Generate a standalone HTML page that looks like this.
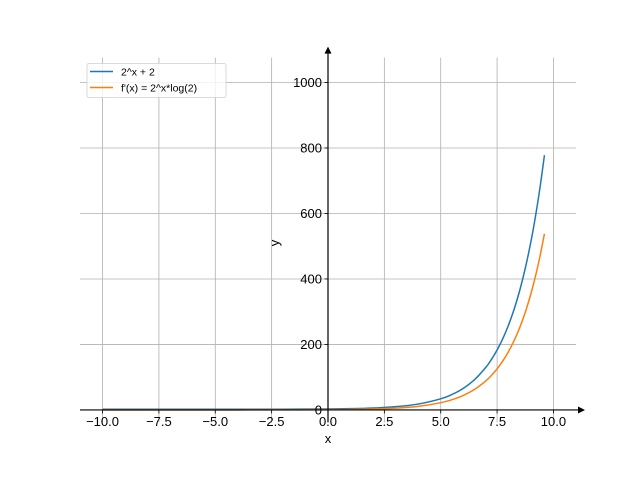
<!DOCTYPE html>
<html><head><meta charset="utf-8"><style>
body{margin:0;background:#fff;}
svg{display:block;font-family:"Liberation Sans","DejaVu Sans",sans-serif;}
</style></head><body>
<svg id="chart" width="640" height="480"></svg>
<script>
const xs=[-10,-8,-6,-4,-2,0,1,2,3,4,5,5.5,6,6.5,7,7.25,7.5,7.75,8,8.25,8.5,8.75,9,9.2,9.4,9.6];
const fVals=[2.0,2.0,2.02,2.06,2.25,3,4,6,10,18,34,47.3,66,92.5,130,154.2,183,217.3,258,306.4,364,432.5,514,590.1,677.6,778];
const dVals=[0.0007,0.003,0.011,0.043,0.173,0.693,1.386,2.773,5.545,11.09,22.18,31.37,44.36,62.73,88.72,105.5,125.5,149.2,177.4,211.0,250.9,298.4,354.9,407.6,468.3,537.9];
const xTicks=[-10,-7.5,-5,-2.5,0,2.5,5,7.5,10];
const xTickLabels=["\u221210.0","\u22127.5","\u22125.0","\u22122.5","0.0","2.5","5.0","7.5","10.0"];
const yTicks=[0,200,400,600,800,1000];
const yTickLabels=["0","200","400","600","800","1000"];
const seriesNames=["2^x + 2","f'(x) = 2^x*log(2)"];

const NS="http://www.w3.org/2000/svg";
const svg=document.getElementById('chart');
const L=80,R=576,T=57.6,B=422.4,xmin=-11,xmax=11,ymin=-38,ymax=1076;
function sx(v){return L+(v-xmin)/(xmax-xmin)*(R-L);}
function sy(v){return B-(v-ymin)/(ymax-ymin)*(B-T);}
function mk(tag,attrs,parent){const e=document.createElementNS(NS,tag);for(const k in attrs)e.setAttribute(k,attrs[k]);(parent||svg).appendChild(e);return e;}
function smoothPath(P){
 let d='M'+P[0][0].toFixed(2)+','+P[0][1].toFixed(2);
 for(let i=0;i<P.length-1;i++){
  const p0=P[Math.max(0,i-1)],p1=P[i],p2=P[i+1],p3=P[Math.min(P.length-1,i+2)];
  const c1x=p1[0]+(p2[0]-p0[0])/6,c1y=p1[1]+(p2[1]-p0[1])/6;
  const c2x=p2[0]-(p3[0]-p1[0])/6,c2y=p2[1]-(p3[1]-p1[1])/6;
  d+=' C'+c1x.toFixed(2)+','+c1y.toFixed(2)+' '+c2x.toFixed(2)+','+c2y.toFixed(2)+' '+p2[0].toFixed(2)+','+p2[1].toFixed(2);
 }
 return d;
}
const x0=sx(0),y0=sy(0);
xTicks.forEach(t=>{const g=mk('line',{x1:sx(t),x2:sx(t),y1:T,y2:B,stroke:'#b0b0b0','stroke-width':0.8});

});
yTicks.forEach(t=>{const g=mk('line',{x1:L,x2:R,y1:sy(t),y2:sy(t),stroke:'#b0b0b0','stroke-width':0.8});

});
const colors=['#1f77b4','#ff7f0e'];
[fVals,dVals].forEach((vals,i)=>{
 const P=xs.map((x,j)=>[sx(x),sy(vals[j])]);
 const p=mk('path',{d:smoothPath(P),fill:'none',stroke:colors[i],'stroke-width':1.5,'stroke-linejoin':'round'});
 
 
});
const xa=mk('line',{x1:L,x2:R+2,y1:y0,y2:y0,stroke:'#000','stroke-width':1.2});


const xArrow=mk('polygon',{points:`${R+9},${y0} ${R+2},${y0-3.5} ${R+2},${y0+3.5}`,fill:'#000'});


const ya=mk('line',{x1:x0,x2:x0,y1:B,y2:T-4,stroke:'#000','stroke-width':1.2});


const yArrow=mk('polygon',{points:`${x0},${T-11} ${x0-3.5},${T-4} ${x0+3.5},${T-4}`,fill:'#000'});


xTicks.forEach((t,i)=>{
 mk('line',{x1:sx(t),x2:sx(t),y1:y0,y2:y0+3.5,stroke:'#000','stroke-width':0.8});
 const tx=mk('text',{x:sx(t),y:y0+16,'text-anchor':'middle','font-size':13,fill:'#000'});
 tx.textContent=xTickLabels[i];
 
 
});
yTicks.forEach((t,i)=>{
 mk('line',{x1:x0-3.5,x2:x0,y1:sy(t),y2:sy(t),stroke:'#000','stroke-width':0.8});
 const tx=mk('text',{x:x0-6,y:sy(t)+4.5,'text-anchor':'end','font-size':13,fill:'#000'});
 tx.textContent=yTickLabels[i];
 
 
});
const xl=mk('text',{x:x0,y:443,'text-anchor':'middle','font-size':13,fill:'#000'});xl.textContent='x';


const yl=mk('text',{x:279,y:243,'text-anchor':'middle','font-size':13,fill:'#000',transform:'rotate(-90 279 243)'});yl.textContent='y';


const lg=mk('g',{});


mk('rect',{x:87,y:63.5,width:139,height:34,rx:2,fill:'#fff','fill-opacity':0.8,stroke:'#d0d0d0','stroke-width':0.8},lg);
seriesNames.forEach((n,i)=>{
 const y=71.5+i*16;
 const e=mk('g',{},lg);
 
 
 mk('line',{x1:90,x2:113,y1:y,y2:y,stroke:colors[i],'stroke-width':1.5},e);
 const t=mk('text',{x:121,y:y+4,'font-size':10.5,fill:'#000'},e);t.textContent=n;
});
</script>
</body></html>
